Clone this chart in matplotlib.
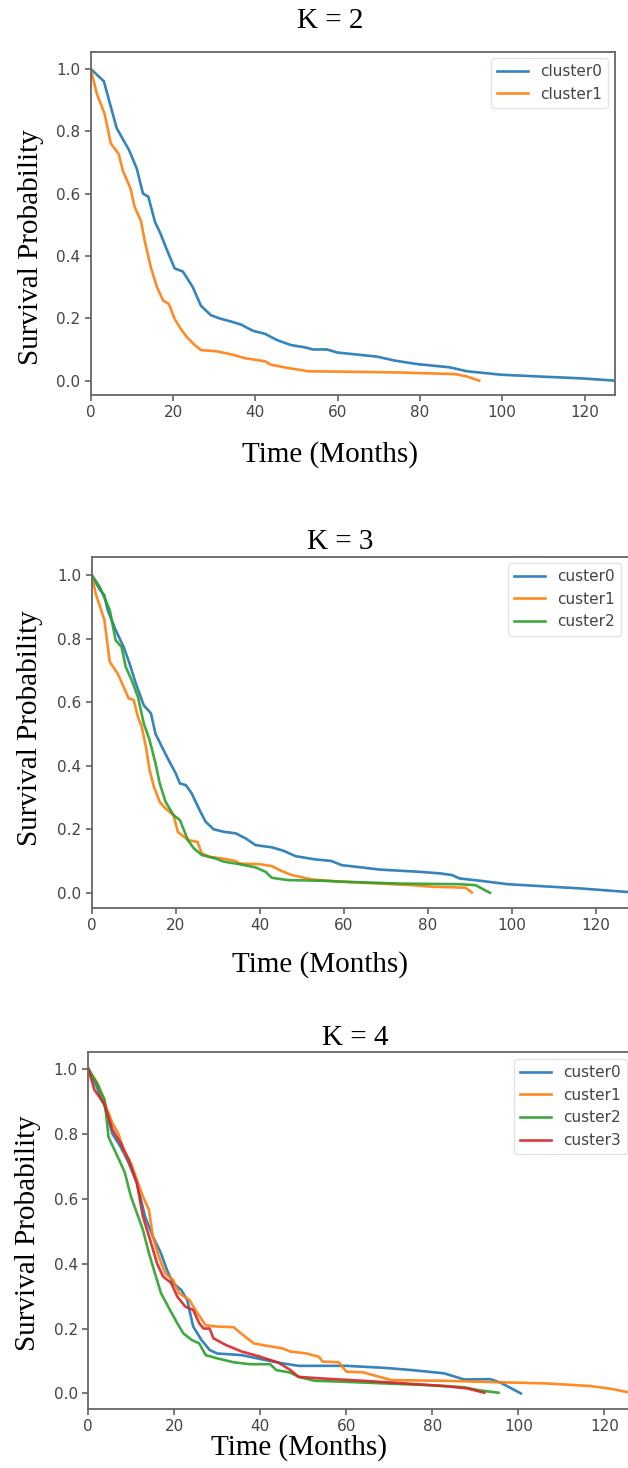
import matplotlib
matplotlib.use('Agg')
import matplotlib.pyplot as plt

# ---------------- datos ----------------
# K = 2
k2_c0_t = [0, 3.2, 6.3, 9.3, 11.2, 12.7, 14, 15.6, 17, 18.5, 20.4, 22.4, 24.8, 26.8, 29.2, 31.2, 34, 36.5,
           39.4, 42.4, 45.3, 48.7, 52, 54, 57.4, 60, 63.8, 69.6, 74, 79.4, 87.1, 91.5, 99.8, 109.5, 119, 127.5]
k2_c0_s = [1.0, 0.96, 0.81, 0.74, 0.68, 0.60, 0.59, 0.51, 0.47, 0.42, 0.36, 0.35, 0.30, 0.24, 0.21, 0.20, 0.19, 0.18,
           0.16, 0.15, 0.13, 0.114, 0.107, 0.10, 0.10, 0.09, 0.085, 0.077, 0.064, 0.053, 0.043, 0.03, 0.019, 0.013, 0.0075, 0.0]
k2_c1_t = [0, 1.5, 3.4, 4.9, 6.8, 7.8, 9.7, 10.7, 12.2, 13.1, 14.6, 16.1, 17.6, 19, 20.4, 21.9, 23.4, 25.3, 26.8,
           30.7, 34.6, 37.5, 42.4, 43.8, 48.2, 53, 60.9, 75.5, 88.6, 91.5, 94.4]
k2_c1_s = [1.0, 0.92, 0.855, 0.76, 0.727, 0.674, 0.615, 0.556, 0.513, 0.45, 0.364, 0.30, 0.257, 0.246, 0.198, 0.166,
           0.139, 0.114, 0.098, 0.094, 0.083, 0.072, 0.062, 0.051, 0.04, 0.03, 0.029, 0.026, 0.021, 0.013, 0.0]

# K = 3
k3_c0_t = [0, 1.9, 3, 3.8, 5.7, 7.6, 9, 10.5, 12.4, 14.1, 15.2, 16.7, 18.1, 20, 21, 22.4, 23.8, 25.7, 27.1, 29,
           31.4, 34.3, 36.7, 39, 42.9, 45.7, 48.6, 53.3, 57.1, 59.5, 68.6, 78, 82.9, 85.7, 87.6, 92.4, 99, 106.7, 116, 128]
k3_c0_s = [1.0, 0.955, 0.937, 0.89, 0.827, 0.774, 0.722, 0.659, 0.59, 0.565, 0.50, 0.46, 0.423, 0.376, 0.344, 0.339,
           0.313, 0.26, 0.224, 0.20, 0.192, 0.187, 0.171, 0.15, 0.143, 0.132, 0.115, 0.105, 0.10, 0.087, 0.073, 0.066,
           0.061, 0.056, 0.045, 0.038, 0.027, 0.021, 0.014, 0.002]
k3_c1_t = [0, 1, 3, 4.3, 6.2, 7.6, 8.8, 10, 11, 11.9, 12.9, 13.8, 14.8, 16.2, 17.6, 19.5, 20.5, 22.9, 25.2, 26.2,
           28.1, 31, 34.3, 35.2, 40, 42.9, 44.8, 47.6, 52.4, 59, 68.6, 76.2, 81, 89, 90.5]
k3_c1_s = [1.0, 0.94, 0.86, 0.727, 0.69, 0.648, 0.612, 0.607, 0.554, 0.523, 0.46, 0.386, 0.334, 0.286, 0.265, 0.244,
           0.192, 0.166, 0.16, 0.124, 0.113, 0.108, 0.10, 0.092, 0.09, 0.084, 0.071, 0.056, 0.042, 0.035, 0.029, 0.024,
           0.019, 0.016, 0.001]
k3_c2_t = [0, 1.9, 4.3, 5.7, 7.1, 8.1, 9.5, 11, 12.4, 13.8, 15.2, 16.2, 17.6, 19.5, 21, 22.9, 24.3, 26.2, 29.5,
           31.4, 35.2, 39, 41.4, 42.9, 46.7, 54.3, 63.8, 73.3, 87.6, 91.4, 94.8]
k3_c2_s = [1.0, 0.963, 0.89, 0.795, 0.774, 0.711, 0.67, 0.617, 0.533, 0.48, 0.407, 0.344, 0.286, 0.244, 0.229, 0.166,
           0.14, 0.119, 0.108, 0.098, 0.09, 0.08, 0.066, 0.047, 0.04, 0.038, 0.033, 0.029, 0.027, 0.024, 0.0]

# K = 4
k4_c0_t = [0, 1.9, 3.8, 5.6, 7.5, 9.4, 11.3, 13.2, 15, 16.9, 18.3, 19.7, 21.6, 23, 23.5, 24.4, 26.3, 28.2, 30,
           35.7, 40.4, 45, 48.9, 54.5, 60, 68.6, 75.2, 82.7, 87.4, 93.5, 95.9, 100.6]
k4_c0_s = [1.0, 0.947, 0.885, 0.80, 0.76, 0.71, 0.648, 0.545, 0.484, 0.432, 0.38, 0.34, 0.319, 0.288, 0.257, 0.206,
           0.165, 0.134, 0.123, 0.118, 0.105, 0.093, 0.085, 0.085, 0.085, 0.079, 0.072, 0.062, 0.043, 0.044, 0.033, 0.0]
k4_c1_t = [0, 2.3, 3.8, 5.6, 7, 8.5, 9.9, 11.3, 12.7, 14.1, 15, 16.4, 17.9, 19.7, 21.1, 23.5, 24.9, 27.3, 30, 33.8,
           35.7, 38.5, 41.4, 45.1, 47, 50.8, 53.6, 54.5, 58.3, 60, 63.9, 67.7, 70.5, 82.7, 96.8, 106.2, 116.5, 121.2, 127]
k4_c1_s = [1.0, 0.952, 0.895, 0.833, 0.80, 0.74, 0.71, 0.658, 0.607, 0.566, 0.484, 0.422, 0.37, 0.35, 0.309, 0.288,
           0.257, 0.21, 0.206, 0.204, 0.183, 0.154, 0.147, 0.139, 0.129, 0.123, 0.113, 0.098, 0.096, 0.067, 0.065,
           0.051, 0.041, 0.039, 0.034, 0.031, 0.023, 0.015, 0.0]
k4_c2_t = [0, 1.9, 3.8, 4.7, 6.1, 7.5, 8.5, 9.9, 11.3, 12.7, 14.1, 15.5, 16.9, 18.8, 20.7, 22.1, 24, 25.8, 27.3, 30,
           33.8, 37.6, 42.3, 43.7, 47, 48.9, 52.6, 59.2, 68.6, 78, 87.4, 90.7, 95.4]
k4_c2_s = [1.0, 0.957, 0.905, 0.79, 0.75, 0.71, 0.68, 0.607, 0.556, 0.504, 0.432, 0.37, 0.309, 0.262, 0.216, 0.185,
           0.165, 0.154, 0.118, 0.108, 0.096, 0.09, 0.09, 0.072, 0.064, 0.051, 0.039, 0.036, 0.031, 0.026, 0.019, 0.01, 0.002]
k4_c3_t = [0, 1.4, 3.8, 5.6, 7.5, 9.4, 11.3, 12.7, 14.6, 16, 17.4, 19.3, 20.7, 22.6, 24.4, 25.8, 26.8, 28.2, 29.1,
           32, 35.7, 39.5, 44.2, 47, 48.9, 54.5, 63.9, 73.3, 82.7, 88.3, 92.1]
k4_c3_s = [1.0, 0.936, 0.89, 0.813, 0.772, 0.72, 0.648, 0.545, 0.463, 0.40, 0.36, 0.34, 0.298, 0.267, 0.257, 0.216,
           0.20, 0.20, 0.17, 0.149, 0.129, 0.115, 0.095, 0.072, 0.051, 0.046, 0.039, 0.031, 0.023, 0.015, 0.002]

titulos = ['K = 2', 'K = 3', 'K = 4']
etiquetas2 = ['cluster0', 'cluster1']
etiquetas3 = ['custer0', 'custer1', 'custer2']
etiquetas4 = ['custer0', 'custer1', 'custer2', 'custer3']
colores = ['#1f77b4', '#ff7f0e', '#2ca02c', '#d62728']

# ---------------- figura ----------------
W, H = 628, 1468
fig = plt.figure(figsize=(W / 100, H / 100), dpi=100)
fig.patch.set_facecolor('white')

def px(x, y):
    # pixeles -> fraccion de figura
    return x / W, 1 - y / H

# (izq, der, arriba, abajo) en pixeles, xlim, ylim, titulo/xlabel/ylabel, esquina leyenda
paneles = [
    dict(box=(90.7, 615, 51.7, 395), xlim=(0, 127.4), ylim=(-0.046, 1.055),
         title=(330, 21), xlab=(330, 455), ylab=(31, 247), leg=(608, 58),
         series=[(k2_c0_t, k2_c0_s), (k2_c1_t, k2_c1_s)], labels=etiquetas2),
    dict(box=(91.7, 629.3, 557.3, 907.7), xlim=(0, 128), ylim=(-0.047, 1.056),
         title=(340, 542), xlab=(320, 965), ylab=(30, 728), leg=(621, 563),
         series=[(k3_c0_t, k3_c0_s), (k3_c1_t, k3_c1_s), (k3_c2_t, k3_c2_s)], labels=etiquetas3),
    dict(box=(88.3, 638.7, 1052.3, 1409), xlim=(0, 128), ylim=(-0.048, 1.051),
         title=(355, 1038), xlab=(299, 1448), ylab=(28, 1233), leg=(627, 1059),
         series=[(k4_c0_t, k4_c0_s), (k4_c1_t, k4_c1_s), (k4_c2_t, k4_c2_s), (k4_c3_t, k4_c3_s)],
         labels=etiquetas4),
]

serif = 'Liberation Serif'

for i, p in enumerate(paneles):
    l, r, t, b = p['box']
    ax = fig.add_axes([l / W, 1 - b / H, (r - l) / W, (b - t) / H])
    for j, (tt, ss) in enumerate(p['series']):
        ax.plot(tt, ss, color=colores[j], lw=1.9, alpha=0.9, label=p['labels'][j])
    ax.set_xlim(*p['xlim'])
    ax.set_ylim(*p['ylim'])
    ax.set_xticks([0, 20, 40, 60, 80, 100, 120])
    ax.set_yticks([0.0, 0.2, 0.4, 0.6, 0.8, 1.0])
    ax.tick_params(labelsize=11, colors='#555555', labelcolor='#444444', length=4, width=1.1)
    for sp in ax.spines.values():
        sp.set_color('#666666')
        sp.set_linewidth(1.3)

    lx, ly = px(*p['leg'])
    leg = ax.legend(loc='upper right', bbox_to_anchor=(lx, ly), bbox_transform=fig.transFigure,
                    fontsize=11, frameon=True, framealpha=0.8, edgecolor='#dddddd',
                    labelspacing=0.5, borderaxespad=0)
    for txt in leg.get_texts():
        txt.set_color('#444444')

    x, y = px(*p['title'])
    fig.text(x, y, titulos[i], fontsize=21, family=serif, ha='center', va='center')
    x, y = px(*p['xlab'])
    fig.text(x, y, 'Time (Months)', fontsize=21, family=serif, ha='center', va='center')
    x, y = px(*p['ylab'])
    fig.text(x, y, 'Survival Probability', fontsize=21, family=serif, ha='center', va='center',
             rotation=90)

fig.savefig('out.png', dpi=100, facecolor='white')
